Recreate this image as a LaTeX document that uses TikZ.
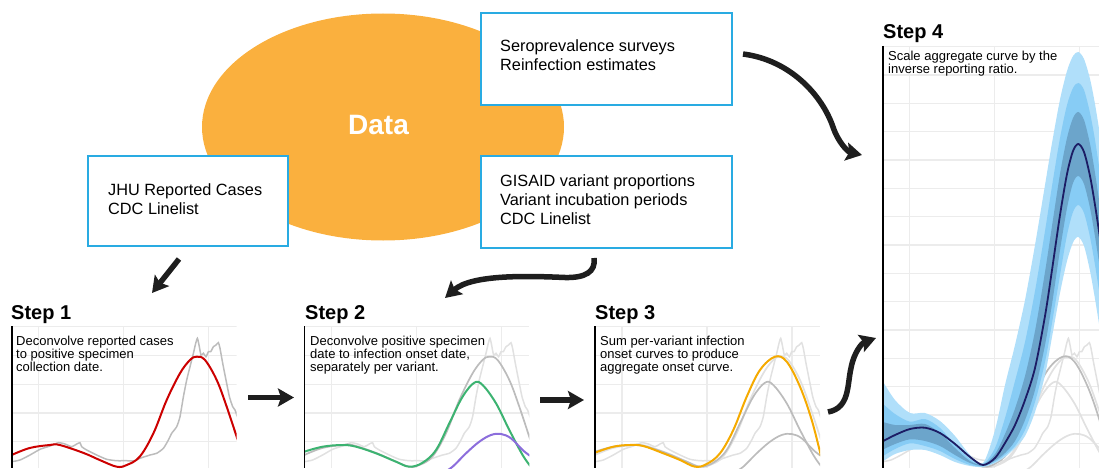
\documentclass[tikz,border=0pt]{standalone}
\usepackage{fontspec}
\setmainfont{Liberation Sans}
\usetikzlibrary{arrows.meta,shapes.geometric}
\definecolor{dataorange}{RGB}{250,176,62}
\definecolor{boxblue}{RGB}{41,171,226}
\definecolor{gridgray}{RGB}{236,236,236}
\definecolor{midgray}{RGB}{188,188,188}
\definecolor{lightcurve}{RGB}{225,225,225}
\definecolor{redc}{RGB}{204,0,0}
\definecolor{greenc}{RGB}{60,179,113}
\definecolor{purplec}{RGB}{140,110,220}
\definecolor{orangec}{RGB}{245,170,0}
\definecolor{navyc}{RGB}{28,28,100}
\definecolor{bandA}{RGB}{176,223,250}
\definecolor{bandB}{RGB}{135,204,245}
\definecolor{bandC}{RGB}{108,165,203}
\definecolor{arrowc}{RGB}{30,30,30}
\newcommand\crvRaw{plot[smooth,tension=0.35] coordinates {(0,461.7) (8.3,460) (18.3,455) (28.3,449.3) (38.3,446) (46.7,442.7) (53.3,444) (60,446.7) (65,444) (68.3,442.7) (70,446.7) (75,450) (85,455) (95,459.3) (105,460.7) (115,460.7) (121.7,461) (128.3,458.3) (138.3,455) (145,453.3) (151.7,448.3) (156.7,440) (160,433.3) (165,426.7) (168.3,416.7) (171.7,396.7) (175,380) (178.3,366.7) (181.7,353.3) (184,343.3) (185.7,338.3) (187.3,345) (189.3,355) (191.7,353.3) (194.3,356.7) (196.7,351.7) (199,351.7) (201.7,346.7) (204.3,345) (206.7,342.7) (208.3,348.3) (211,363.3) (214.3,380) (217.7,396.7) (221,406.7) (223.3,410) (226,418)}}
\newcommand\crvS{plot[smooth,tension=0.6] coordinates {(0,455) (18,448) (38,445) (48,445) (72,453) (88,460) (105,466.7) (115,465) (128,456.7) (141.7,433.3) (155,400) (168.3,373.3) (178.3,360) (185,356.7) (193.3,360) (205,380) (215,406.7) (226,440)}}
\newcommand\crvG{plot[smooth,tension=0.6] coordinates {(0,451.7) (18.3,446.7) (38.3,445) (51.7,446.7) (71.7,453.3) (91.7,461.7) (105,466.7) (118.3,462.7) (131.7,450) (145,423.3) (158.3,396.7) (170,382.7) (178.3,385) (191.7,403.3) (205,430) (218.3,455) (226,466)}}
\newcommand\crvP{plot[smooth,tension=0.6] coordinates {(140,472) (148.3,466.7) (161.7,453.3) (175,441.7) (186.7,435) (196.7,434) (206.7,438.3) (218.3,450) (226,456)}}
\newcommand\crvA{plot[smooth,tension=0.6] coordinates {(0,452.7) (18.3,446.7) (35,445) (48.3,446) (68.3,453.3) (85,460) (100,466.7) (111.7,464) (125,453.3) (138.3,430) (151.7,396.7) (165,370) (180,356.7) (191.7,361.7) (205,386.7) (216.7,420) (226,456)}}
\tikzset{
  dataell/.style={ellipse, fill=dataorange, minimum width=362pt, minimum height=227pt, inner sep=0pt},
  datalabel/.style={text=white, font=\bfseries\fontsize{28}{32}\selectfont, inner sep=0pt},
  srcbox/.style={draw=boxblue, line width=2.4pt, fill=white, minimum height=92pt, inner sep=0pt},
  srctext/.style={font=\fontsize{16.3}{18.8}\selectfont, align=left, anchor=north west, inner sep=0pt},
  steptitle/.style={font=\bfseries\fontsize{20}{24}\selectfont, anchor=base west, inner sep=0pt},
  steptext/.style={font=\fontsize{13}{13.3}\selectfont, align=left, anchor=north west, inner sep=0pt},
  gridline/.style={draw=gridgray, line width=1.3pt},
  axisline/.style={draw=black, line width=1.6pt},
  rawmid/.style={draw=midgray, line width=1.5pt},
  rawlight/.style={draw=lightcurve, line width=1.5pt},
  graycurve/.style={draw=midgray, line width=1.7pt},
  lightsmooth/.style={draw=lightcurve, line width=1.7pt},
  colcurve/.style={line width=2pt},
  bigarrow/.style={draw=arrowc, line width=5.5pt, -{Stealth[length=16pt,width=18pt,inset=3pt]}},
}
\begin{document}
\begin{tikzpicture}[x=1pt,y=-1pt]
\useasboundingbox (0,0) rectangle (1099,468);
% data ellipse and sources
\node[dataell] (data) at (383,127) {};
\node[datalabel] (datalbl) at (378.5,125) {Data};
\node[srcbox, minimum width=251pt] (sero) at (606.5,59) {};
\node[srctext] (serotext) at (500,39.5) {Seroprevalence surveys\\Reinfection estimates};
\node[srcbox, minimum width=200pt, minimum height=90pt] (jhu) at (188,201) {};
\node[srctext] (jhutext) at (108,183.5) {JHU Reported Cases\\CDC Linelist};
\node[srcbox, minimum width=251pt] (gis) at (606.5,202) {};
\node[srctext] (gistext) at (500,174.5) {GISAID variant proportions\\Variant incubation periods\\CDC Linelist};
% ---------- Step 1
\begin{scope}[shift={(11.7,0)}]
  \begin{scope}
    \clip (0,322) rectangle (225,468);
    \foreach \k in {0,...,4} \draw[gridline] (0,{441.7-28.75*\k}) -- (225,{441.7-28.75*\k});
    \foreach \v in {27,112,197} \draw[gridline] (\v,326.7) -- (\v,468);
    \draw[rawmid] \crvRaw;
    \draw[colcurve, redc] \crvS;
  \end{scope}
  \draw[axisline] (0,326) -- (0,468);
\end{scope}
\node[steptitle] (s1) at (11,319.3) {Step 1};
\node[steptext] (t1) at (16,335.5) {Deconvolve reported cases\\to positive specimen\\collection date.};
% ---------- Step 2
\begin{scope}[shift={(304.3,0)}]
  \begin{scope}
    \clip (0,322) rectangle (225,468);
    \foreach \k in {0,...,4} \draw[gridline] (0,{441.7-28.75*\k}) -- (225,{441.7-28.75*\k});
    \foreach \v in {27,112,197} \draw[gridline] (\v,326.7) -- (\v,468);
    \draw[rawlight] \crvRaw;
    \draw[graycurve] \crvS;
    \draw[colcurve, greenc] \crvG;
    \draw[colcurve, purplec] \crvP;
  \end{scope}
  \draw[axisline] (0,326) -- (0,468);
\end{scope}
\node[steptitle] (s2) at (305,319.3) {Step 2};
\node[steptext] (t2) at (310,335.5) {Deconvolve positive specimen\\date to infection onset date,\\separately per variant.};
% ---------- Step 3
\begin{scope}[shift={(595,0)}]
  \begin{scope}
    \clip (0,322) rectangle (225,468);
    \foreach \k in {0,...,4} \draw[gridline] (0,{441.7-28.75*\k}) -- (225,{441.7-28.75*\k});
    \foreach \v in {27,112,197} \draw[gridline] (\v,326.7) -- (\v,468);
    \draw[rawlight] \crvRaw;
    \draw[lightsmooth] \crvS;
    \draw[graycurve] \crvG;
    \draw[graycurve] \crvP;
    \draw[colcurve, orangec] \crvA;
  \end{scope}
  \draw[axisline] (0,326) -- (0,468);
\end{scope}
\node[steptitle] (s3) at (595,319.3) {Step 3};
\node[steptext] (t3) at (600,335.5) {Sum per-variant infection\\onset curves to produce\\aggregate onset curve.};
% ---------- Step 4
\begin{scope}
  \clip (882.7,44) rectangle (1099,468);
  \foreach \k in {0,...,14} \draw[gridline] (882.7,{443.3-28.33*\k}) -- (1099,{443.3-28.33*\k});
  \foreach \v in {909.7,994.7,1079.7} \draw[gridline] (\v,46.7) -- (\v,468);
  \begin{scope}[shift={(882.7,0)}]
    \draw[rawlight] \crvRaw;
    \draw[lightsmooth] \crvG;
    \draw[lightsmooth] \crvP;
    \draw[lightsmooth] \crvS;
    \draw[graycurve] \crvA;
  \end{scope}
  \fill[bandA] plot[smooth,tension=0.5] coordinates {(882,380) (895,400) (910,413) (925,413) (940,421) (955,436) (970,455) (983,463) (995,430) (1005,385) (1015,345) (1025,300) (1035,245) (1045,185) (1052,143) (1060,99.5) (1067,71) (1073,56) (1078.3,52) (1084,59) (1090,79) (1095,104) (1100,135)}
    -- plot[smooth,tension=0.5] coordinates {(1100,330) (1095,299) (1090,271) (1084,246) (1078.3,237) (1073,242.5) (1067,261) (1060,293) (1052,337) (1045,375) (1035,412) (1025,436) (1015,448) (1005,457) (995,463) (983,467) (970,466) (955,462) (940,455) (925,450) (910,450) (895,454) (882,462)} -- cycle;
  \fill[bandB] plot[smooth,tension=0.5] coordinates {(882,403) (895,414) (910,421.7) (925,419) (940,428) (955,445) (970,459) (983,464) (995,448) (1005,418) (1015,381) (1025,342) (1035,291) (1045,231) (1052,186) (1060,138) (1067,105) (1073,88) (1078.3,83) (1084,90) (1090,113) (1095,140) (1100,173)}
    -- plot[smooth,tension=0.5] coordinates {(1100,297) (1095,265) (1090,237) (1084,213) (1078.3,205) (1073,212) (1067,235) (1060,275) (1052,323) (1045,362) (1035,402) (1025,430) (1015,446) (1005,455) (995,462) (983,466.5) (970,465) (955,459) (940,451) (925,446) (910,443.3) (895,449) (882,456.7)} -- cycle;
  \fill[bandC] plot[smooth,tension=0.5] coordinates {(882,421.7) (895,425) (910,425) (925,424) (940,433) (955,448) (970,461) (983,464.5) (995,454) (1005,434) (1015,408.6) (1025,376) (1035,331) (1045,272) (1052,226) (1060,174) (1067,138) (1073,118) (1078.3,112) (1084,120) (1090,144) (1095,173) (1100,207)}
    -- plot[smooth,tension=0.5] coordinates {(1100,269) (1095,236.5) (1090,208) (1084,184) (1078.3,176) (1073,183) (1067,208) (1060,250) (1052,304) (1045,345) (1035,390) (1025,420) (1015,441) (1005,453) (995,460.6) (983,466) (970,463) (955,455) (940,446) (925,441) (910,439.3) (895,444) (882,450)} -- cycle;
  \draw[colcurve, navyc, line width=1.8pt] plot[smooth,tension=0.5] coordinates {(882,441.7) (895,435) (910,429) (925,427.7) (940,433) (955,444) (970,457) (983,465) (995,458) (1005,443) (1015,425) (1025,400) (1035,368) (1045,316) (1052,270) (1060,215) (1067,174) (1073,151) (1078.3,144) (1084,152) (1090,176) (1095,205) (1100,238)};
\end{scope}
\draw[axisline] (882.7,46) -- (882.7,468);
\node[steptitle] (s4) at (883,38.3) {Step 4};
\node[steptext] (t4) at (888,50.5) {Scale aggregate curve by the\\inverse reporting ratio.};
% ---------- arrows
\coordinate (a1s) at (179,259);
\coordinate (a1e) at (152,293);
\coordinate (a2s) at (594,258);
\coordinate (a2e) at (445,298);
\coordinate (a3s) at (248,397.5);
\coordinate (a3e) at (294,397.5);
\coordinate (a4s) at (540,400);
\coordinate (a4e) at (584,400);
\coordinate (a5s) at (828,412);
\coordinate (a5e) at (876,338);
\coordinate (a6s) at (743,54);
\coordinate (a6e) at (862,155);
\draw[bigarrow] (a1s) -- (a1e);
\draw[bigarrow] (a2s) .. controls (596,272) and (585,278) .. (565,277.5) .. controls (530,276) and (472,274) .. (a2e);
\draw[bigarrow] (a3s) -- (a3e);
\draw[bigarrow] (a4s) -- (a4e);
\draw[bigarrow] (a5s) .. controls (850,408) and (847,385) .. (851,368) .. controls (854,352) and (862,343) .. (a5e);
\draw[bigarrow] (a6s) .. controls (790,60) and (822,95) .. (833,127) .. controls (838,142) and (848,152) .. (a6e);
\end{tikzpicture}
\end{document}
